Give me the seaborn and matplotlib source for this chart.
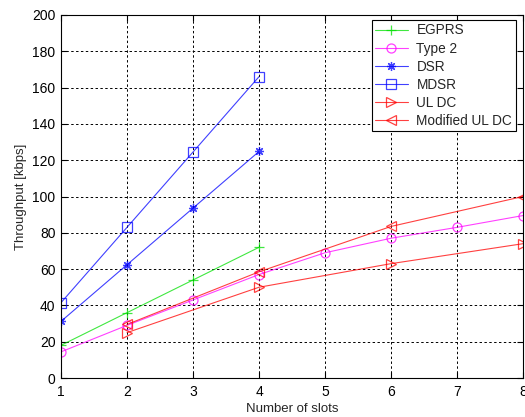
import numpy as np
import pandas as pd
import seaborn as sns
import matplotlib.pyplot as plt

# Values
slots_4 = [1, 2, 3, 4]
slots_8 = [1, 2, 3, 4, 5, 6, 7, 8]
slots_even = [2, 4, 6, 8]

egprs = [18, 36, 54, 72]
type2 = [14.4, 29, 43, 57, 69, 77, 83, 89.5]
dsr = [31.2, 62.4, 93.6, 124.8]
mdsr = [41.5, 83, 124.5, 166]
ul_dc = [25, 50, 63, 74]
mod_ul_dc = [29.5, 58.5, 83.5, 100]

sns.set_style('white')
plt.rcParams['font.family'] = ['Liberation Sans', 'DejaVu Sans']

fig = plt.figure(figsize=(5.25, 4.17), dpi=100)
ax = fig.add_axes([61 / 525, 1 - 378 / 417, 462 / 525, 363 / 417])

# matlab style asterisk = 8 spokes
star = (8, 2, 0)
series = [
    ('EGPRS', slots_4, egprs, '#00e000', '+', 'full'),
    ('Type 2', slots_8, type2, '#ff00ff', 'o', 'none'),
    ('DSR', slots_4, dsr, '#0000ff', star, 'full'),
    ('MDSR', slots_4, mdsr, '#0000ff', 's', 'none'),
    ('UL DC', slots_even, ul_dc, '#ff0000', '>', 'none'),
    ('Modified UL DC', slots_even, mod_ul_dc, '#ff0000', '<', 'none'),
]

for name, xs, ys, col, mk, fill in series:
    df = pd.DataFrame({'slots': xs, 'thr': ys})
    sns.lineplot(data=df, x='slots', y='thr', ax=ax, color=col, marker=mk,
                 markersize=6.5, fillstyle=fill, markeredgecolor=col,
                 markeredgewidth=0.9, linewidth=0.8, alpha=0.75, label=name)

ax.set_xlim(1, 8)
ax.set_ylim(0, 200)
ax.set_xticks(range(1, 9))
ax.set_yticks(range(0, 201, 20))
ax.grid(True, color='black', linestyle=(0, (2.5, 2.5)), linewidth=0.7)
ax.tick_params(direction='in', length=4, labelsize=10, top=True, right=True,
               bottom=True, left=True, colors='black')
ax.tick_params(axis='x', pad=5)
ax.tick_params(axis='y', pad=4)
for sp in ax.spines.values():
    sp.set_color('black')
    sp.set_linewidth(0.8)

ax.set_xlabel('Number of slots', fontsize=9.5, labelpad=3)
ax.set_ylabel('Throughput [kbps]', fontsize=9.5, labelpad=4)

leg = ax.legend(loc='upper right', bbox_to_anchor=(0.984, 0.986), fontsize=9.8,
                frameon=True, fancybox=False, framealpha=1, edgecolor='black',
                borderpad=0.25, labelspacing=0.3, handlelength=2.4,
                handletextpad=0.65, borderaxespad=0)
leg.get_frame().set_linewidth(0.8)

fig.savefig('out.png', dpi=100)
